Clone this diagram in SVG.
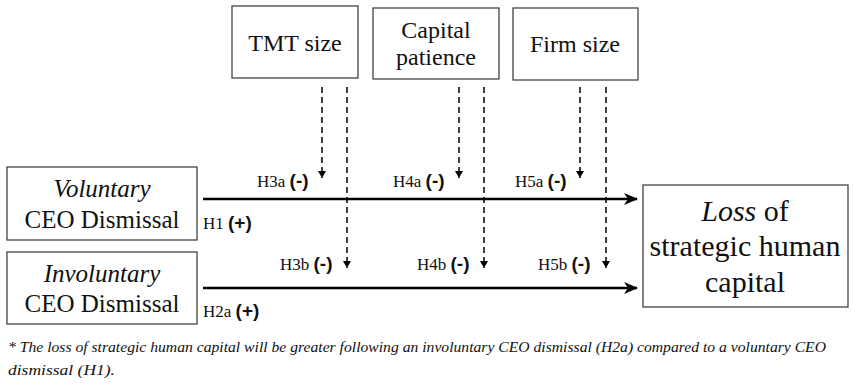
<svg xmlns="http://www.w3.org/2000/svg" width="853" height="384" viewBox="0 0 853 384">
<defs>
<style>
.box{fill:#fff;stroke:#444;stroke-width:1.3}
.t{font-family:"Liberation Serif","Times New Roman",serif;fill:#111}
.main{stroke:#000;stroke-width:2.5;fill:none}
.dash{stroke:#000;stroke-width:1.5;stroke-dasharray:6 4;fill:none}
.lab{font-family:"Liberation Serif","Times New Roman",serif;font-size:17px;fill:#111}
.sign{font-family:"Liberation Sans",Arial,sans-serif;font-weight:bold;font-size:19px}
</style>
<marker id="big" viewBox="0 0 14 12" refX="13" refY="6" markerWidth="14" markerHeight="12" markerUnits="userSpaceOnUse" orient="auto">
<path d="M0,0 L14,6 L0,12 L4,6 Z" fill="#000"/>
</marker>
<marker id="small" viewBox="0 0 8 7" refX="4" refY="7" markerWidth="8" markerHeight="7" markerUnits="userSpaceOnUse" orient="0">
<path d="M0,0 L8,0 L4,7 Z" fill="#000"/>
</marker>
</defs>

<g id="tmt"><rect class="box" x="232" y="6" width="126" height="72"/><text class="t" x="295" y="51" font-size="24" text-anchor="middle">TMT size</text></g>
<g id="capital"><rect class="box" x="373" y="8" width="126" height="71"/><text class="t" x="436" y="38" font-size="24" text-anchor="middle">Capital</text><text class="t" x="436" y="65" font-size="24" text-anchor="middle">patience</text></g>
<g id="firm"><rect class="box" x="513" y="8" width="125" height="72"/><text class="t" x="575" y="52" font-size="24" text-anchor="middle">Firm size</text></g>

<g id="voluntary"><rect class="box" x="7" y="167" width="190" height="73"/><text class="t" x="102" y="197" font-size="25" text-anchor="middle" font-style="italic">Voluntary</text><text class="t" x="102" y="228" font-size="25" text-anchor="middle">CEO Dismissal</text></g>
<g id="involuntary"><rect class="box" x="7" y="252" width="190" height="72"/><text class="t" x="102" y="282" font-size="25" text-anchor="middle" font-style="italic">Involuntary</text><text class="t" x="102" y="312" font-size="25" text-anchor="middle">CEO Dismissal</text></g>
<g id="loss"><rect class="box" x="643" y="185" width="205" height="122"/><text class="t" x="745" y="221" font-size="30" text-anchor="middle"><tspan font-style="italic">Loss</tspan> of</text><text class="t" x="745" y="256" font-size="30" text-anchor="middle">strategic human</text><text class="t" x="745" y="292" font-size="30" text-anchor="middle">capital</text></g>

<g id="connectors">
<line class="main" x1="203" y1="199" x2="637" y2="199" marker-end="url(#big)"/>
<line class="main" x1="203" y1="288" x2="637" y2="288" marker-end="url(#big)"/>
<line class="dash" x1="322" y1="87" x2="322" y2="178" marker-end="url(#small)"/>
<line class="dash" x1="347" y1="87" x2="347" y2="268" marker-end="url(#small)"/>
<line class="dash" x1="459" y1="87" x2="459" y2="178" marker-end="url(#small)"/>
<line class="dash" x1="484" y1="87" x2="484" y2="268" marker-end="url(#small)"/>
<line class="dash" x1="580" y1="87" x2="580" y2="178" marker-end="url(#small)"/>
<line class="dash" x1="606" y1="87" x2="606" y2="268" marker-end="url(#small)"/>
</g>

<g id="labels">
<text class="lab" x="257" y="187">H3a <tspan class="sign">(-)</tspan></text>
<text class="lab" x="393" y="187">H4a <tspan class="sign">(-)</tspan></text>
<text class="lab" x="515" y="187">H5a <tspan class="sign">(-)</tspan></text>
<text class="lab" x="280" y="270">H3b <tspan class="sign">(-)</tspan></text>
<text class="lab" x="417" y="270">H4b <tspan class="sign">(-)</tspan></text>
<text class="lab" x="538" y="270">H5b <tspan class="sign">(-)</tspan></text>
<text class="lab" x="203" y="229">H1 <tspan class="sign">(+)</tspan></text>
<text class="lab" x="203" y="317">H2a <tspan class="sign">(+)</tspan></text>
</g>

<g id="footnote" class="t" font-style="italic" font-size="15">
<text x="8" y="352" textLength="818" lengthAdjust="spacingAndGlyphs">* The loss of strategic human capital will be greater following an involuntary CEO dismissal (H2a) compared to a voluntary CEO</text>
<text x="8" y="375" textLength="107" lengthAdjust="spacingAndGlyphs">dismissal (H1).</text>
</g>
</svg>
